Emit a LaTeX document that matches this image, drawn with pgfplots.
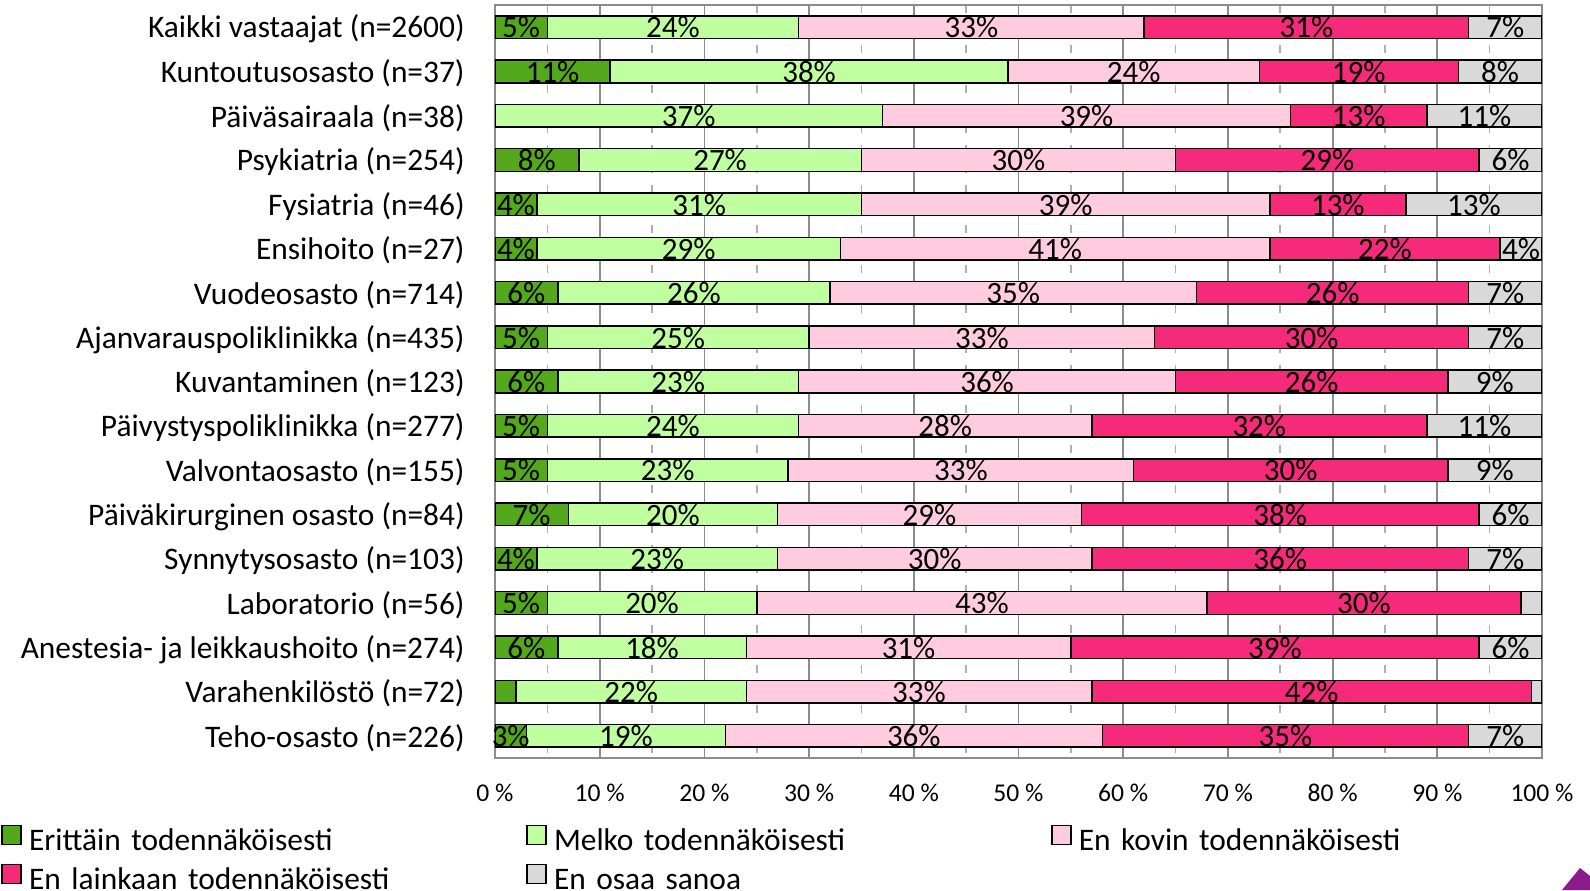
\documentclass[border=0pt]{standalone}
\usepackage{fontspec}
\setmainfont{Carlito}
\usepackage{pgfplots}
\pgfplotsset{compat=1.18}
\definecolor{cA}{HTML}{53A81B}
\definecolor{cB}{HTML}{BFFF9F}
\definecolor{cC}{HTML}{FFCCDF}
\definecolor{cD}{HTML}{F52A7A}
\definecolor{cE}{HTML}{D9D9D9}
\definecolor{gridmaj}{HTML}{8C8C8C}
\definecolor{gridmin}{HTML}{AFAFAF}
\definecolor{logo}{HTML}{8B1A8B}
\begin{document}
\begin{tikzpicture}
\path[use as bounding box] (0,0) rectangle (795pt,445pt);
\begin{axis}[
  at={(247.5pt,66pt)}, anchor=south west,
  scale only axis, width=523.5pt, height=376.5pt,
  xbar stacked, bar width=11.3pt,
  xmin=0, xmax=100, ymin=-0.5, ymax=16.5, y dir=reverse,
  xtick={0,10,...,100},
  xticklabels={0 \%,10 \%,20 \%,30 \%,40 \%,50 \%,60 \%,70 \%,80 \%,90 \%,100 \%},
  minor xtick={5,15,...,95},
  xmajorgrids, xminorgrids,
  major grid style={draw=gridmaj, line width=0.9pt},
  minor grid style={draw=gridmin, line width=0.8pt, dash pattern=on 4pt off 6pt},
  ytick={0,...,16},
  yticklabels={Kaikki vastaajat (n=2600),Kuntoutusosasto (n=37),Päiväsairaala (n=38),Psykiatria (n=254),Fysiatria (n=46),Ensihoito (n=27),Vuodeosasto (n=714),Ajanvarauspoliklinikka (n=435),Kuvantaminen (n=123),Päivystyspoliklinikka (n=277),Valvontaosasto (n=155),Päiväkirurginen osasto (n=84),Synnytysosasto (n=103),Laboratorio (n=56),Anestesia- ja leikkaushoito (n=274),Varahenkilöstö (n=72),Teho-osasto (n=226)},
  tick style={draw=none}, major tick length=0pt, minor tick length=0pt,
  axis line style={draw=gridmaj, line width=0.9pt},
  yticklabel style={font=\fontsize{15.7}{18}\selectfont, inner xsep=0pt, xshift=-15pt, yshift=-1pt, anchor=east},
  xticklabel style={font=\fontsize{12.8}{15}\selectfont, inner sep=0pt, yshift=-13pt, anchor=north},
  every axis plot/.append style={draw=black, line width=0.75pt},
  visualization depends on=rawx \as \rawx,
  nodes near coords={\ifdim\rawx pt<2.5pt\relax\else\pgfmathprintnumber[fixed,precision=0,assume math mode=true]{\rawx}\%\fi},
  every node near coord/.append style={anchor=base, yshift=-5.4pt, font=\fontsize{15.5}{18}\selectfont, inner sep=0pt, text=black},
  legend columns=3,
  legend cell align=left,
  legend style={at={(-0.4716,-0.0885)}, anchor=north west, draw=none, fill=none,
    inner sep=0pt, outer sep=0pt, font=\fontsize{15.7}{18}\selectfont,
    column sep=0pt, row sep=0.5pt,
    /tikz/every odd column/.append style={column sep=1.7pt},
    nodes={text width=246.5pt, inner xsep=2pt, inner ysep=2pt, text height=11pt, text depth=4pt}},
  legend image code/.code={\draw[#1, line width=0.75pt] (0.3pt,-0.3pt) rectangle (9.8pt,9.2pt);},
]
\addplot[fill=cA] coordinates {(5,0) (11,1) (0,2) (8,3) (4,4) (4,5) (6,6) (5,7) (6,8) (5,9) (5,10) (7,11) (4,12) (5,13) (6,14) (2,15) (3,16)};
\addplot[fill=cB] coordinates {(24,0) (38,1) (37,2) (27,3) (31,4) (29,5) (26,6) (25,7) (23,8) (24,9) (23,10) (20,11) (23,12) (20,13) (18,14) (22,15) (19,16)};
\addplot[fill=cC] coordinates {(33,0) (24,1) (39,2) (30,3) (39,4) (41,5) (35,6) (33,7) (36,8) (28,9) (33,10) (29,11) (30,12) (43,13) (31,14) (33,15) (36,16)};
\addplot[fill=cD] coordinates {(31,0) (19,1) (13,2) (29,3) (13,4) (22,5) (26,6) (30,7) (26,8) (32,9) (30,10) (38,11) (36,12) (30,13) (39,14) (42,15) (35,16)};
\addplot[fill=cE] coordinates {(7,0) (8,1) (11,2) (6,3) (13,4) (4,5) (7,6) (7,7) (9,8) (11,9) (9,10) (6,11) (7,12) (2,13) (6,14) (1,15) (7,16)};
\legend{Erittäin todennäköisesti, Melko todennäköisesti, En kovin todennäköisesti, En lainkaan todennäköisesti, En osaa sanoa}
\end{axis}
\fill[logo] (781pt,0pt) -- (790pt,11pt) -- (795pt,7pt) -- (795pt,0pt) -- cycle;
\end{tikzpicture}
\end{document}
